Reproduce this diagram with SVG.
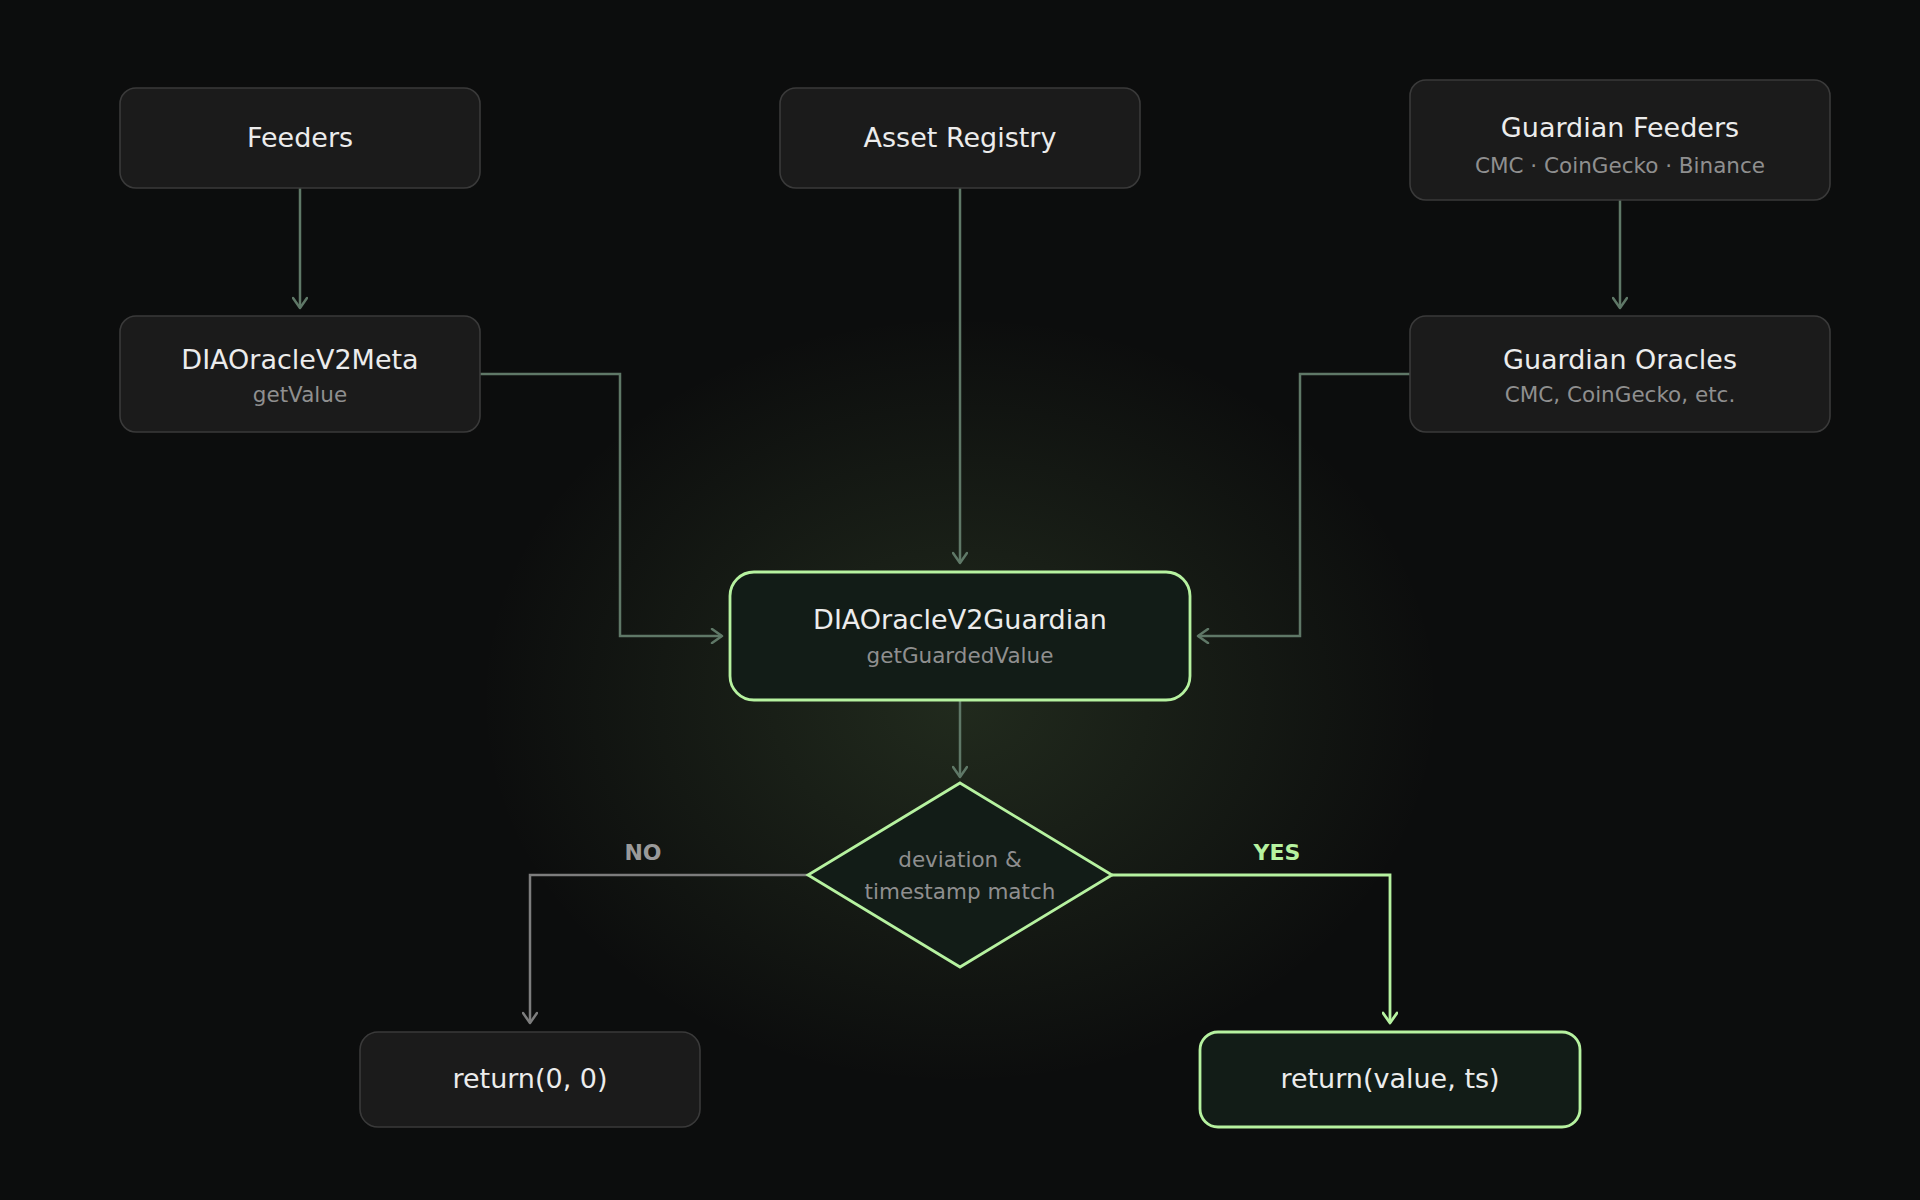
<svg xmlns="http://www.w3.org/2000/svg" width="1920" height="1200" viewBox="0 0 1920 1200">
  <defs>
    <radialGradient id="glow" cx="960" cy="700" r="480" gradientUnits="userSpaceOnUse" gradientTransform="translate(960 700) scale(1 0.8) translate(-960 -700)">
      <stop offset="0" stop-color="#9ad27a" stop-opacity="0.15"/>
      <stop offset="0.5" stop-color="#9ad27a" stop-opacity="0.075"/>
      <stop offset="1" stop-color="#9ad27a" stop-opacity="0"/>
    </radialGradient>
    <marker id="arr" viewBox="0 0 14 16" refX="12" refY="8" markerWidth="14" markerHeight="16" markerUnits="userSpaceOnUse" orient="auto">
      <path d="M2,1 L12,8 L2,15" fill="none" stroke="#5f7867" stroke-width="2.5" stroke-linecap="round" stroke-linejoin="round"/>
    </marker>
    <marker id="arrNo" viewBox="0 0 14 16" refX="12" refY="8" markerWidth="14" markerHeight="16" markerUnits="userSpaceOnUse" orient="auto">
      <path d="M2,1 L12,8 L2,15" fill="none" stroke="#7d7d7d" stroke-width="2.5" stroke-linecap="round" stroke-linejoin="round"/>
    </marker>
    <marker id="arrYes" viewBox="0 0 14 16" refX="12" refY="8" markerWidth="14" markerHeight="16" markerUnits="userSpaceOnUse" orient="auto">
      <path d="M2,1 L12,8 L2,15" fill="none" stroke="#b6f2a0" stroke-width="2.8" stroke-linecap="round" stroke-linejoin="round"/>
    </marker>
  </defs>
  <style>
    .node { fill: #1b1b1b; stroke: #3a3a3a; stroke-width: 1.6; }
    .hl { fill: #121c17; stroke: #b6f2a0; stroke-width: 2.8; }
    .title { font-family: "DejaVu Sans", sans-serif; font-size: 27px; fill: #ececec; text-anchor: middle; }
    .sub { font-family: "DejaVu Sans", sans-serif; font-size: 21.5px; fill: #8f8f8f; text-anchor: middle; }
    .conn { fill: none; stroke: #5f7867; stroke-width: 2.5; marker-end: url(#arr); }
    .lbl { font-family: "DejaVu Sans", sans-serif; font-size: 22px; font-weight: bold; text-anchor: middle; }
  </style>
  <rect width="1920" height="1200" fill="#0c0d0d"/>
  <rect width="1920" height="1200" fill="url(#glow)"/>

  <g id="connectors">
    <path class="conn" d="M300,188 V308"/>
    <path class="conn" d="M1620,200 V308"/>
    <path class="conn" d="M960,188 V563"/>
    <path class="conn" d="M480,374 H620 V636 H722"/>
    <path class="conn" d="M1410,374 H1300 V636 H1198"/>
    <path class="conn" d="M960,700 V777"/>
    <path d="M808,875 H530 V1023" fill="none" stroke="#7d7d7d" stroke-width="2.5" marker-end="url(#arrNo)"/>
    <path d="M1112,875 H1390 V1023" fill="none" stroke="#b6f2a0" stroke-width="2.8" marker-end="url(#arrYes)"/>
    <text class="lbl" x="643" y="860" fill="#9a9a9a">NO</text>
    <text class="lbl" x="1277" y="860" fill="#b6f2a0">YES</text>
  </g>

  <g id="feeders">
    <rect class="node" x="120" y="88" width="360" height="100" rx="16"/>
    <text class="title" x="300" y="147">Feeders</text>
  </g>
  <g id="asset-registry">
    <rect class="node" x="780" y="88" width="360" height="100" rx="16"/>
    <text class="title" x="960" y="147">Asset Registry</text>
  </g>
  <g id="guardian-feeders">
    <rect class="node" x="1410" y="80" width="420" height="120" rx="16"/>
    <text class="title" x="1620" y="137">Guardian Feeders</text>
    <text class="sub" x="1620" y="173">CMC · CoinGecko · Binance</text>
  </g>
  <g id="oracle-meta">
    <rect class="node" x="120" y="316" width="360" height="116" rx="16"/>
    <text class="title" x="300" y="369">DIAOracleV2Meta</text>
    <text class="sub" x="300" y="402">getValue</text>
  </g>
  <g id="guardian-oracles">
    <rect class="node" x="1410" y="316" width="420" height="116" rx="16"/>
    <text class="title" x="1620" y="369">Guardian Oracles</text>
    <text class="sub" x="1620" y="402">CMC, CoinGecko, etc.</text>
  </g>
  <g id="guardian">
    <rect class="hl" x="730" y="572" width="460" height="128" rx="24"/>
    <text class="title" x="960" y="629">DIAOracleV2Guardian</text>
    <text class="sub" x="960" y="663">getGuardedValue</text>
  </g>
  <g id="decision">
    <polygon class="hl" points="960,783 1112,875 960,967 808,875" stroke-width="2.4"/>
    <text class="sub" x="960" y="867">deviation &amp;</text>
    <text class="sub" x="960" y="899">timestamp match</text>
  </g>
  <g id="return-zero">
    <rect class="node" x="360" y="1032" width="340" height="95" rx="18" stroke="#4a4a4a"/>
    <text class="title" x="530" y="1088">return(0, 0)</text>
  </g>
  <g id="return-value">
    <rect class="hl" x="1200" y="1032" width="380" height="95" rx="18" stroke-width="2.4"/>
    <text class="title" x="1390" y="1088">return(value, ts)</text>
  </g>
</svg>
